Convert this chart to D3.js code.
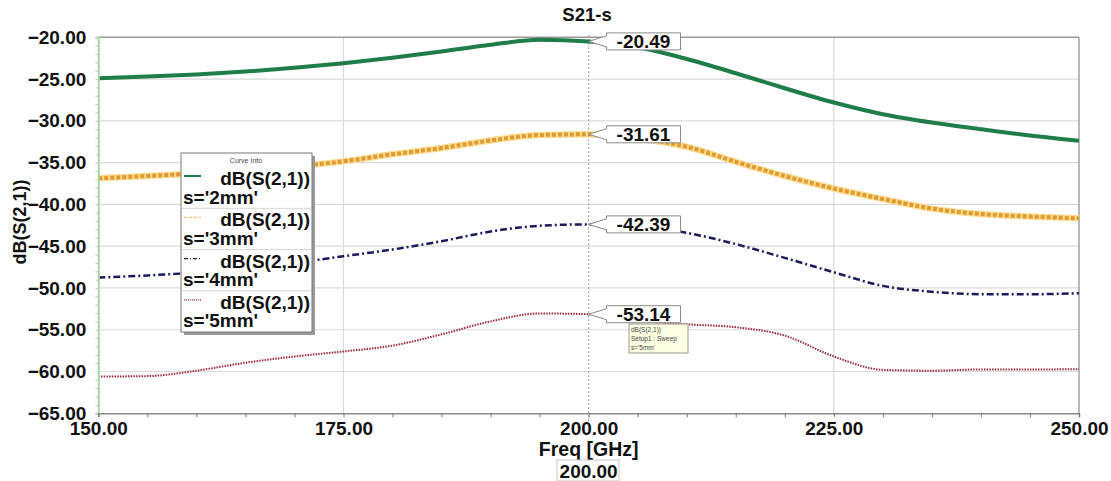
<!DOCTYPE html>
<html>
<head>
<meta charset="utf-8">
<script src="https://cdn.jsdelivr.net/npm/d3@7"></script>
<style>
  body { margin: 0; background: #fff; }
  svg text { font-family: "Liberation Sans", Arial, sans-serif; }
</style>
</head>
<body>
<div id="chart"></div>
<script>
// frequency grid (GHz)
const freq = [150,155,160,165,170,175,180,185,190,195,200,205,210,215,220,225,230,235,240,245,250];

// dB(S(2,1)) per spacing
const s2mm = [-24.9,-24.7,-24.45,-24.1,-23.65,-23.1,-22.45,-21.7,-20.9,-20.3,-20.49,-21.2,-22.6,-24.3,-26.1,-27.8,-29.2,-30.2,-31.0,-31.75,-32.37];
const s3mm = [-36.87,-36.6,-36.3,-35.95,-35.45,-34.85,-34.0,-33.25,-32.35,-31.7,-31.61,-32.1,-33.1,-34.9,-36.6,-38.1,-39.35,-40.5,-41.15,-41.45,-41.66];
const s4mm = [-48.76,-48.5,-48.15,-47.6,-47.0,-46.2,-45.4,-44.4,-43.25,-42.55,-42.39,-42.6,-43.4,-44.75,-46.4,-48.12,-49.75,-50.45,-50.75,-50.75,-50.63];
const s5mm = [-60.6,-60.55,-59.9,-58.95,-58.2,-57.6,-56.9,-55.55,-54.0,-53.05,-53.14,-53.9,-54.35,-54.7,-55.7,-58.2,-59.8,-59.9,-59.75,-59.75,-59.73];

const seriesNames = ["s='2mm'", "s='3mm'", "s='4mm'", "s='5mm'"];
const markerValues = ["-20.49", "-31.61", "-42.39", "-53.14"];
const xTicks = [150, 175, 200, 225, 250];
const yTicks = [-20,-25,-30,-35,-40,-45,-50,-55,-60,-65];
const markerFreq = 200;

const W = 1111, H = 481;
const svg = d3.select("#chart").append("svg").attr("width", W).attr("height", H);

const x = d3.scaleLinear().domain([150, 250]).range([98.3, 1079]);
const y = d3.scaleLinear().domain([-65, -20]).range([413.3, 37.3]);

const styles = [
  { color: "#1e7d48", width: 4, dash: null },
  { color: "#e29a2c", width: 4, dash: "4,2", glow: "#f9dc96" },
  { color: "#1c1c5c", width: 2.5, dash: "7,3,2,3" },
  { color: "#9e2a40", width: 2, dash: "1.5,1.2" }
];
const allSeries = [s2mm, s3mm, s4mm, s5mm];
const fs = 19;

// grid
svg.append("g").selectAll("line").data(yTicks.slice(1, -1)).join("line")
  .attr("x1", x(150)).attr("x2", x(250))
  .attr("y1", d => y(d)).attr("y2", d => y(d))
  .attr("stroke", "#dadada").attr("stroke-width", 1.2);
svg.append("g").selectAll("line").data([175, 225]).join("line")
  .attr("x1", d => x(d)).attr("x2", d => x(d))
  .attr("y1", y(-20)).attr("y2", y(-65))
  .attr("stroke", "#dadada").attr("stroke-width", 1.2);

// frame top / right
svg.append("line").attr("x1", x(150)).attr("x2", x(250)).attr("y1", y(-20)).attr("y2", y(-20))
  .attr("stroke", "#9a9a9a").attr("stroke-width", 1.5);
svg.append("line").attr("x1", x(250)).attr("x2", x(250)).attr("y1", y(-20)).attr("y2", y(-65))
  .attr("stroke", "#8a8a8a").attr("stroke-width", 1.2);

// marker line at 200
svg.append("line").attr("x1", x(markerFreq)).attr("x2", x(markerFreq))
  .attr("y1", y(-20) - 2).attr("y2", y(-65) + 8)
  .attr("stroke", "#9a9a9a").attr("stroke-width", 1).attr("stroke-dasharray", "2,2");

// curves
const line = d3.line().x((d, i) => x(freq[i])).y(d => y(d)).curve(d3.curveMonotoneX);
allSeries.forEach((vals, k) => {
  const st = styles[k];
  if (st.glow) {
    svg.append("path").attr("d", line(vals)).attr("fill", "none")
      .attr("stroke", st.glow).attr("stroke-width", st.width + 2.5);
  }
  svg.append("path").attr("d", line(vals)).attr("fill", "none")
    .attr("stroke", st.color).attr("stroke-width", st.width)
    .attr("stroke-dasharray", st.dash);
});

// y axis
const yMinor = d3.range(-65, -19, 1);
svg.append("g").attr("transform", `translate(${x(150)},0)`)
  .call(d3.axisLeft(y).tickValues(yMinor).tickSize(3).tickFormat(""))
  .call(g => g.select(".domain").attr("stroke", "#a8d8a8").attr("stroke-width", 2))
  .call(g => g.selectAll(".tick line").attr("stroke", "#b5dcb5"));
svg.append("g").attr("transform", `translate(${x(150)},0)`)
  .call(d3.axisLeft(y).tickValues(yTicks).tickSize(0).tickPadding(12).tickFormat(d3.format(".2f")))
  .call(g => g.select(".domain").remove())
  .call(g => g.selectAll("text").attr("font-size", fs).attr("font-weight", "bold").attr("fill", "#111"));

// x axis
const xMinor = d3.range(150, 251, 5);
svg.append("g").attr("transform", `translate(0,${y(-65)})`)
  .call(d3.axisBottom(x).tickValues(xMinor).tickSize(4).tickFormat(""))
  .call(g => g.select(".domain").attr("stroke", "#8a8a8a").attr("stroke-width", 1.5))
  .call(g => g.selectAll(".tick line").attr("stroke", "#777"));
svg.append("g").attr("transform", `translate(0,${y(-65)})`)
  .call(d3.axisBottom(x).tickValues(xTicks).tickSize(0).tickPadding(8).tickFormat(d3.format(".2f")))
  .call(g => g.select(".domain").remove())
  .call(g => g.selectAll("text").attr("font-size", fs).attr("font-weight", "bold").attr("fill", "#111"));

// axis titles
svg.append("text").attr("x", x(200)).attr("y", 456).attr("text-anchor", "middle")
  .attr("font-size", 19.5).attr("font-weight", "bold").attr("fill", "#111").text("Freq [GHz]");
svg.append("rect").attr("x", 557).attr("y", 460).attr("width", 62).attr("height", 21)
  .attr("fill", "#fff").attr("stroke", "#c8c8c8");
svg.append("text").attr("x", x(200)).attr("y", 477.5).attr("text-anchor", "middle")
  .attr("font-size", fs).attr("font-weight", "bold").attr("fill", "#111").text(d3.format(".2f")(markerFreq));
svg.append("text").attr("transform", "translate(26,222) rotate(-90)").attr("text-anchor", "middle")
  .attr("font-size", 18).attr("font-weight", "bold").attr("fill", "#111").text("dB(S(2,1))");
svg.append("text").attr("x", 587).attr("y", 21).attr("text-anchor", "middle")
  .attr("font-size", 18.5).attr("font-weight", "bold").attr("fill", "#111").text("S21-s");

// marker callouts
const mi = freq.indexOf(markerFreq);
allSeries.forEach((vals, k) => {
  const px = x(markerFreq), py = y(vals[mi]);
  const bx = 606.5, bw = 74, bh = 17, by = py - bh / 2;
  svg.append("path")
    .attr("d", `M${px},${py} L${bx},${by + 3} L${bx},${by} L${bx + bw},${by} L${bx + bw},${by + bh} L${bx},${by + bh} L${bx},${by + bh - 3} Z`)
    .attr("fill", "#fff").attr("stroke", "#8a8a8a").attr("stroke-width", 1);
  svg.append("text").attr("x", bx + bw / 2).attr("y", by + bh - 1.5).attr("text-anchor", "middle")
    .attr("font-size", 19).attr("font-weight", "bold").attr("fill", "#111").text(markerValues[k]);
});

// tooltip
const tip = svg.append("g").attr("transform", "translate(629,324)");
tip.append("rect").attr("width", 59).attr("height", 29).attr("fill", "#ffffe4").attr("stroke", "#9a9a8a");
["dB(S(2,1))", "Setup1 : Sweep", "s='5mm'"].forEach((t, i) => {
  tip.append("text").attr("x", 2).attr("y", 8 + i * 9).attr("font-size", 6.5).attr("fill", "#444").text(t);
});

// legend
const lg = svg.append("g").attr("transform", "translate(181,153)");
lg.append("rect").attr("x", 3).attr("y", 3).attr("width", 131).attr("height", 179).attr("fill", "#9a9a9a");
lg.append("rect").attr("width", 131).attr("height", 179).attr("fill", "#fff").attr("stroke", "#777");
lg.append("text").attr("x", 65).attr("y", 10).attr("text-anchor", "middle")
  .attr("font-size", 7).attr("fill", "#444").text("Curve Info");
seriesNames.forEach((name, k) => {
  const top = 14 + k * 41.3;
  if (k > 0) lg.append("line").attr("x1", 1).attr("x2", 130).attr("y1", top).attr("y2", top)
    .attr("stroke", "#d5d5d5");
  const st = styles[k];
  lg.append("line").attr("x1", 3).attr("x2", 20).attr("y1", top + 9).attr("y2", top + 9)
    .attr("stroke", k === 1 ? "#f0c878" : st.color).attr("stroke-width", k === 0 ? 2 : 1.2)
    .attr("stroke-dasharray", k === 0 ? null : (k === 1 ? "3,2" : (k === 2 ? "4,2,1,2" : "1,1")));
  lg.append("text").attr("x", 129).attr("y", top + 18).attr("text-anchor", "end")
    .attr("font-size", 19).attr("font-weight", "bold").attr("fill", "#111").text("dB(S(2,1))");
  lg.append("text").attr("x", 2).attr("y", top + 36.5).attr("font-size", 19).attr("font-weight", "bold")
    .attr("fill", "#111").text(name);
});
</script>
</body>
</html>
